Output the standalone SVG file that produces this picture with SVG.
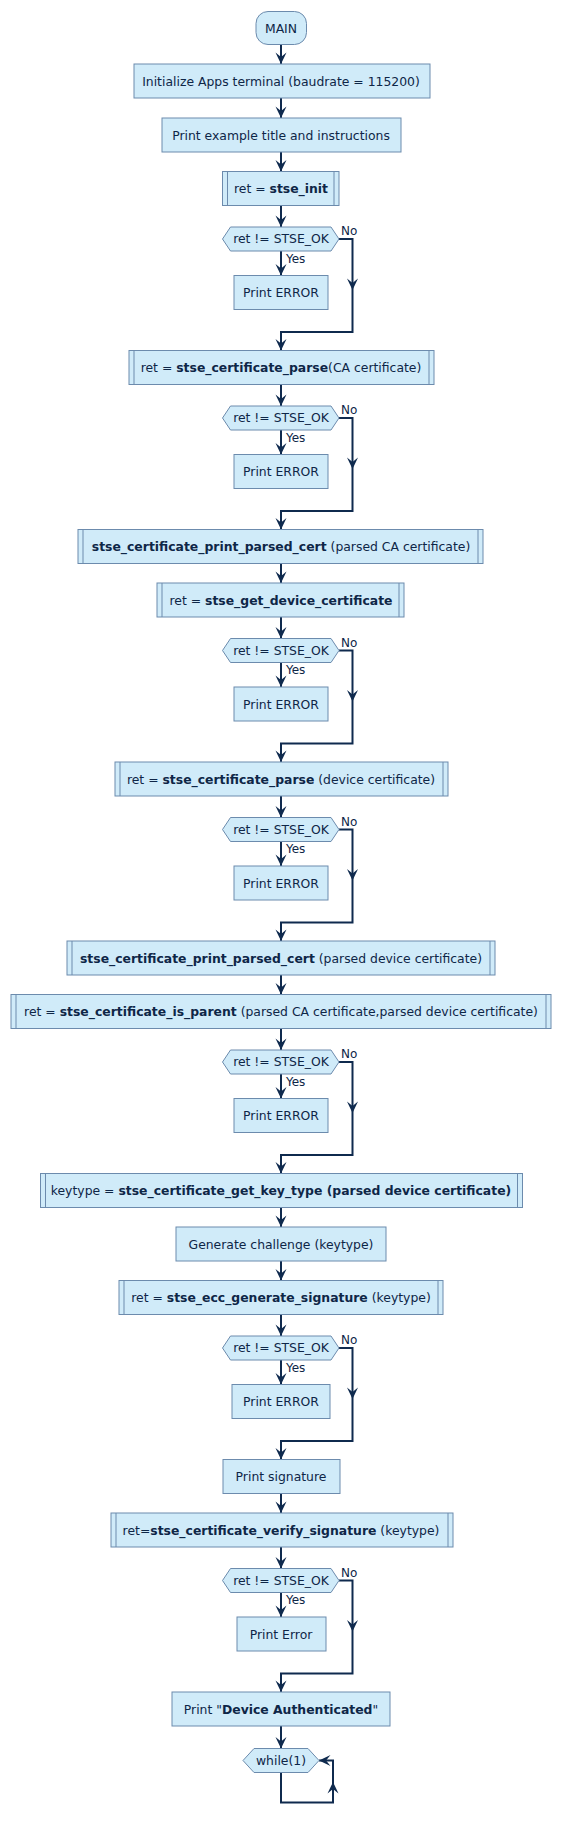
<svg xmlns="http://www.w3.org/2000/svg" xmlns:xlink="http://www.w3.org/1999/xlink" width="562" height="1826" viewBox="0 0 562 1826">
<style>
.box{fill:#D0EBF9;stroke:#6C8BAD;stroke-width:1}
.bar{stroke:#6C8BAD;stroke-width:1;fill:none}
.t{font-family:"DejaVu Sans",sans-serif;font-size:12.4px;fill:#0E2647;text-anchor:middle}
.l{font-family:"DejaVu Sans",sans-serif;font-size:12px;fill:#0E2647}
.b{font-weight:bold}
.c{fill:none;stroke:#0F2A4E;stroke-width:2}
.ah{fill:#0F2A4E}
</style>
<defs>
<path id="ah" d="M0,0 L-5.5,-11.5 L0,-7 L5.5,-11.5 Z"/>
</defs>
<rect width="562" height="1826" fill="#ffffff"/>

<g id="connectors">
<path class="c" d="M281,44.5V64 M281,98V118 M281,152V171.5"/>
<path class="c" d="M281,205.5V227 M281,251V275.5 M339,239H352.5V332H281V350.5"/>
<path class="c" d="M281,384.5V406 M281,430V454.5 M339,418H352.5V511H281V529.5"/>
<path class="c" d="M281,563.5V583"/>
<path class="c" d="M281,617V638.5 M281,662.5V687 M339,650.5H352.5V743.5H281V762"/>
<path class="c" d="M281,796V817.5 M281,841.5V866 M339,829.5H352.5V922.5H281V941"/>
<path class="c" d="M281,975V994.5"/>
<path class="c" d="M281,1028.5V1050 M281,1074V1098.5 M339,1062H352.5V1155H281V1173.5"/>
<path class="c" d="M281,1207.5V1227 M281,1261V1280.5"/>
<path class="c" d="M281,1314.5V1336 M281,1360V1384.5 M339,1348H352.5V1441H281V1459.5"/>
<path class="c" d="M281,1493.5V1513"/>
<path class="c" d="M281,1547V1568.5 M281,1592.5V1617 M339,1580.5H352.5V1673.5H281V1692"/>
<path class="c" d="M281,1726V1748.5"/>
<path class="c" d="M281,1772.5V1802.5H333V1760.5H319"/>
<g class="ah">
<use xlink:href="#ah" transform="translate(281,64)"/>
<use xlink:href="#ah" transform="translate(281,118)"/>
<use xlink:href="#ah" transform="translate(281,171.5)"/>
<use xlink:href="#ah" transform="translate(281,227)"/>
<use xlink:href="#ah" transform="translate(281,275.5)"/>
<use xlink:href="#ah" transform="translate(352.5,290)"/>
<use xlink:href="#ah" transform="translate(281,350.5)"/>
<use xlink:href="#ah" transform="translate(281,406)"/>
<use xlink:href="#ah" transform="translate(281,454.5)"/>
<use xlink:href="#ah" transform="translate(352.5,469)"/>
<use xlink:href="#ah" transform="translate(281,529.5)"/>
<use xlink:href="#ah" transform="translate(281,583)"/>
<use xlink:href="#ah" transform="translate(281,638.5)"/>
<use xlink:href="#ah" transform="translate(281,687)"/>
<use xlink:href="#ah" transform="translate(352.5,701.5)"/>
<use xlink:href="#ah" transform="translate(281,762)"/>
<use xlink:href="#ah" transform="translate(281,817.5)"/>
<use xlink:href="#ah" transform="translate(281,866)"/>
<use xlink:href="#ah" transform="translate(352.5,880.5)"/>
<use xlink:href="#ah" transform="translate(281,941)"/>
<use xlink:href="#ah" transform="translate(281,994.5)"/>
<use xlink:href="#ah" transform="translate(281,1050)"/>
<use xlink:href="#ah" transform="translate(281,1098.5)"/>
<use xlink:href="#ah" transform="translate(352.5,1113)"/>
<use xlink:href="#ah" transform="translate(281,1173.5)"/>
<use xlink:href="#ah" transform="translate(281,1227)"/>
<use xlink:href="#ah" transform="translate(281,1280.5)"/>
<use xlink:href="#ah" transform="translate(281,1336)"/>
<use xlink:href="#ah" transform="translate(281,1384.5)"/>
<use xlink:href="#ah" transform="translate(352.5,1399)"/>
<use xlink:href="#ah" transform="translate(281,1459.5)"/>
<use xlink:href="#ah" transform="translate(281,1513)"/>
<use xlink:href="#ah" transform="translate(281,1568.5)"/>
<use xlink:href="#ah" transform="translate(281,1617)"/>
<use xlink:href="#ah" transform="translate(352.5,1631.5)"/>
<use xlink:href="#ah" transform="translate(281,1692)"/>
<use xlink:href="#ah" transform="translate(281,1748.5)"/>
<use xlink:href="#ah" transform="translate(333,1782) rotate(180)"/>
<use xlink:href="#ah" transform="translate(319,1760.5) rotate(90)"/>
</g>
<g class="l">
<text x="286" y="262.5">Yes</text><text x="341" y="235">No</text>
<text x="286" y="441.5">Yes</text><text x="341" y="414">No</text>
<text x="286" y="674">Yes</text><text x="341" y="646.5">No</text>
<text x="286" y="853">Yes</text><text x="341" y="825.5">No</text>
<text x="286" y="1085.5">Yes</text><text x="341" y="1058">No</text>
<text x="286" y="1371.5">Yes</text><text x="341" y="1344">No</text>
<text x="286" y="1604">Yes</text><text x="341" y="1576.5">No</text>
</g>
</g>

<g id="main"><rect class="box" x="256" y="11.5" width="50.5" height="33" rx="12"/><text class="t" x="281" y="32.5">MAIN</text></g>
<g id="init"><rect class="box" x="134" y="64" width="296" height="34"/><text class="t" x="281" y="85.5">Initialize Apps terminal (baudrate = 115200)</text></g>
<g id="printex"><rect class="box" x="162" y="118" width="239" height="34"/><text class="t" x="281" y="139.5">Print example title and instructions</text></g>
<g id="stse_init"><rect class="box" x="222.5" y="171.5" width="116.5" height="34"/><path class="bar" d="M227.5,171.5v34M334,171.5v34"/><text class="t" x="281" y="193">ret = <tspan class="b">stse_init</tspan></text></g>
<g id="d1"><polygon class="box" points="222.5,239 230.5,227 331,227 339,239 331,251 230.5,251"/><text class="t" x="281" y="243">ret != STSE_OK</text></g>
<g id="err1"><rect class="box" x="234" y="275.5" width="94" height="34"/><text class="t" x="281" y="297">Print ERROR</text></g>

<g id="parse_ca"><rect class="box" x="129" y="350.5" width="305" height="34"/><path class="bar" d="M134,350.5v34M429,350.5v34"/><text class="t" x="281" y="372">ret = <tspan class="b">stse_certificate_parse</tspan>(CA certificate)</text></g>
<g id="d2"><polygon class="box" points="222.5,418 230.5,406 331,406 339,418 331,430 230.5,430"/><text class="t" x="281" y="422">ret != STSE_OK</text></g>
<g id="err2"><rect class="box" x="234" y="454.5" width="94" height="34"/><text class="t" x="281" y="476">Print ERROR</text></g>

<g id="print_ca"><rect class="box" x="78" y="529.5" width="405" height="34"/><path class="bar" d="M83,529.5v34M478,529.5v34"/><text class="t" x="281" y="551"><tspan class="b">stse_certificate_print_parsed_cert</tspan> (parsed CA certificate)</text></g>
<g id="get_dev"><rect class="box" x="157" y="583" width="247" height="34"/><path class="bar" d="M162,583v34M399,583v34"/><text class="t" x="281" y="604.5">ret = <tspan class="b">stse_get_device_certificate</tspan></text></g>
<g id="d3"><polygon class="box" points="222.5,650.5 230.5,638.5 331,638.5 339,650.5 331,662.5 230.5,662.5"/><text class="t" x="281" y="654.5">ret != STSE_OK</text></g>
<g id="err3"><rect class="box" x="234" y="687" width="94" height="34"/><text class="t" x="281" y="708.5">Print ERROR</text></g>

<g id="parse_dev"><rect class="box" x="115" y="762" width="333" height="34"/><path class="bar" d="M120,762v34M443,762v34"/><text class="t" x="281" y="783.5">ret = <tspan class="b">stse_certificate_parse</tspan> (device certificate)</text></g>
<g id="d4"><polygon class="box" points="222.5,829.5 230.5,817.5 331,817.5 339,829.5 331,841.5 230.5,841.5"/><text class="t" x="281" y="833.5">ret != STSE_OK</text></g>
<g id="err4"><rect class="box" x="234" y="866" width="94" height="34"/><text class="t" x="281" y="887.5">Print ERROR</text></g>

<g id="print_dev"><rect class="box" x="67" y="941" width="428" height="34"/><path class="bar" d="M72,941v34M490,941v34"/><text class="t" x="281" y="962.5"><tspan class="b">stse_certificate_print_parsed_cert</tspan> (parsed device certificate)</text></g>
<g id="is_parent"><rect class="box" x="11" y="994.5" width="540" height="34"/><path class="bar" d="M16,994.5v34M546,994.5v34"/><text class="t" x="281" y="1016">ret = <tspan class="b">stse_certificate_is_parent</tspan> (parsed CA certificate,parsed device certificate)</text></g>
<g id="d5"><polygon class="box" points="222.5,1062 230.5,1050 331,1050 339,1062 331,1074 230.5,1074"/><text class="t" x="281" y="1066">ret != STSE_OK</text></g>
<g id="err5"><rect class="box" x="234" y="1098.5" width="94" height="34"/><text class="t" x="281" y="1120">Print ERROR</text></g>

<g id="key_type"><rect class="box" x="40.5" y="1173.5" width="482" height="34"/><path class="bar" d="M45.5,1173.5v34M517.5,1173.5v34"/><text class="t" x="281" y="1195">keytype = <tspan class="b">stse_certificate_get_key_type (parsed device certificate)</tspan></text></g>
<g id="challenge"><rect class="box" x="176" y="1227" width="210" height="34"/><text class="t" x="281" y="1248.5">Generate challenge (keytype)</text></g>
<g id="ecc_sig"><rect class="box" x="119" y="1280.5" width="324" height="34"/><path class="bar" d="M124,1280.5v34M438,1280.5v34"/><text class="t" x="281" y="1302">ret = <tspan class="b">stse_ecc_generate_signature</tspan> (keytype)</text></g>
<g id="d6"><polygon class="box" points="222.5,1348 230.5,1336 331,1336 339,1348 331,1360 230.5,1360"/><text class="t" x="281" y="1352">ret != STSE_OK</text></g>
<g id="err6"><rect class="box" x="232" y="1384.5" width="98" height="34"/><text class="t" x="281" y="1406">Print ERROR</text></g>

<g id="print_sig"><rect class="box" x="223" y="1459.5" width="117" height="34"/><text class="t" x="281" y="1481">Print signature</text></g>
<g id="verify"><rect class="box" x="111" y="1513" width="342" height="34"/><path class="bar" d="M116,1513v34M448,1513v34"/><text class="t" x="281" y="1534.5">ret=<tspan class="b">stse_certificate_verify_signature</tspan> (keytype)</text></g>
<g id="d7"><polygon class="box" points="222.5,1580.5 230.5,1568.5 331,1568.5 339,1580.5 331,1592.5 230.5,1592.5"/><text class="t" x="281" y="1584.5">ret != STSE_OK</text></g>
<g id="err7"><rect class="box" x="237" y="1617" width="89" height="34"/><text class="t" x="281" y="1638.5">Print Error</text></g>

<g id="auth"><rect class="box" x="172" y="1692" width="218" height="34"/><text class="t" x="281" y="1713.5">Print "<tspan class="b">Device Authenticated</tspan>"</text></g>
<g id="while"><polygon class="box" points="243,1760.5 254,1748.5 308,1748.5 319,1760.5 308,1772.5 254,1772.5"/><text class="t" x="281" y="1764.5">while(1)</text></g>
</svg>
